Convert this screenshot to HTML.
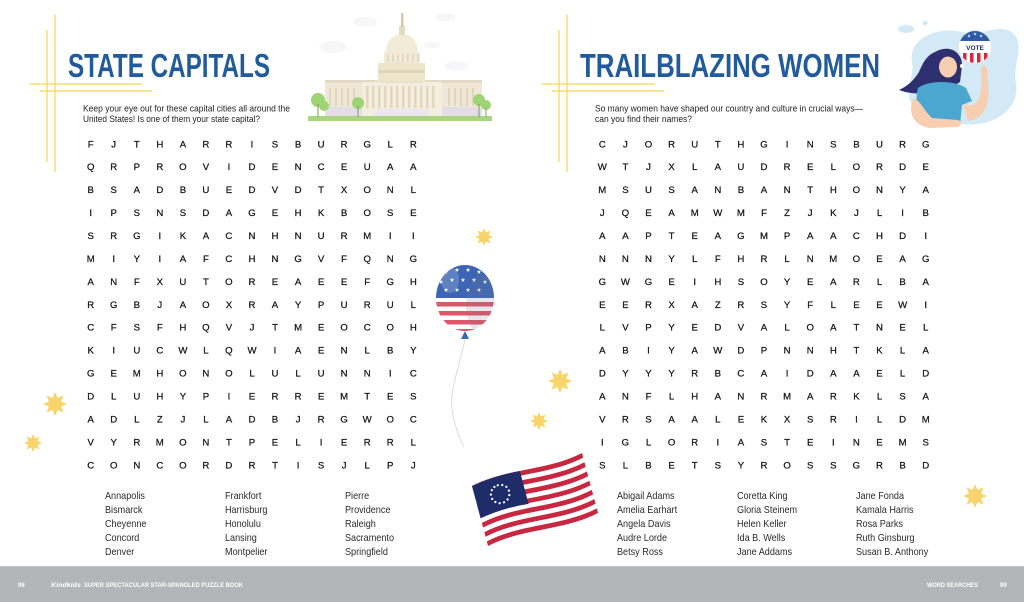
<!DOCTYPE html>
<html><head><meta charset="utf-8"><style>
html,body{margin:0;padding:0;background:#fff;}
svg{display:block;}
</style></head><body>
<svg width="1024" height="602" viewBox="0 0 1024 602" xmlns="http://www.w3.org/2000/svg">
<defs>
<polygon id="sb" points="1,0 0.508,0.211 0.707,0.707 0.211,0.508 0,1 -0.211,0.508 -0.707,0.707 -0.508,0.211 -1,0 -0.508,-0.211 -0.707,-0.707 -0.211,-0.508 0,-1 0.211,-0.508 0.707,-0.707 0.508,-0.211"/>
<polygon id="s5" points="0,-1 0.22,-0.31 0.95,-0.31 0.36,0.12 0.59,0.81 0,0.38 -0.59,0.81 -0.36,0.12 -0.95,-0.31 -0.22,-0.31"/>
<clipPath id="bal"><ellipse cx="465" cy="298" rx="29" ry="33"/></clipPath>
<clipPath id="btn"><circle cx="975" cy="47" r="16"/></clipPath>
<path id="stripe" d="M0,0 C37,-7 73,7 110,0 L110,4.62 C73,11.62 37,-2.38 0,4.62 Z"/>
</defs>

<!-- yellow guide lines -->
<g stroke="#f7d64e" stroke-width="1.2" fill="none">
<line x1="55" y1="15" x2="55" y2="172"/>
<line x1="47" y1="30" x2="47" y2="162"/>
<line x1="30" y1="84" x2="142" y2="84"/>
<line x1="40" y1="91" x2="152" y2="91"/>
<line x1="567" y1="15" x2="567" y2="172"/>
<line x1="559" y1="30" x2="559" y2="162"/>
<line x1="542" y1="84" x2="655" y2="84"/>
<line x1="552" y1="91" x2="664" y2="91"/>
</g>

<!-- titles -->
<g font-family="Liberation Sans, sans-serif" font-weight="bold" fill="#215b9c" font-size="33.5">
<text x="68" y="77" textLength="202" lengthAdjust="spacingAndGlyphs">STATE CAPITALS</text>
<text x="580" y="77" textLength="300" lengthAdjust="spacingAndGlyphs">TRAILBLAZING WOMEN</text>
</g>

<!-- descriptions -->
<g font-family="Liberation Sans, sans-serif" fill="#222" font-size="9.2">
<text x="83" y="111.5" textLength="207" lengthAdjust="spacingAndGlyphs">Keep your eye out for these capital cities all around the</text>
<text x="83" y="122" textLength="177" lengthAdjust="spacingAndGlyphs">United States! Is one of them your state capital?</text>
<text x="595" y="111.5" textLength="268" lengthAdjust="spacingAndGlyphs">So many women have shaped our country and culture in crucial ways—</text>
<text x="595" y="122" textLength="97" lengthAdjust="spacingAndGlyphs">can you find their names?</text>
</g>

<!-- capitol -->
<g>
<ellipse cx="365" cy="22" rx="12" ry="5" fill="#f7f7f9"/>
<ellipse cx="333" cy="47" rx="14" ry="6" fill="#f7f7f9"/>
<ellipse cx="445" cy="17" rx="10" ry="4" fill="#f7f7f9"/>
<ellipse cx="457" cy="66" rx="12" ry="5" fill="#f7f7f9"/>
<ellipse cx="432" cy="45" rx="8" ry="3" fill="#f7f7f9"/>
<rect x="325" y="81" width="157" height="36" fill="#efe8d6"/>
<rect x="325" y="80" width="157" height="3" fill="#e4dac3"/>
<g fill="#e0d5bd">
<rect x="329" y="88" width="2" height="18"/><rect x="335" y="88" width="2" height="18"/><rect x="341" y="88" width="2" height="18"/><rect x="347" y="88" width="2" height="18"/><rect x="353" y="88" width="2" height="18"/>
<rect x="448" y="88" width="2" height="18"/><rect x="454" y="88" width="2" height="18"/><rect x="460" y="88" width="2" height="18"/><rect x="466" y="88" width="2" height="18"/><rect x="472" y="88" width="2" height="18"/>
</g>
<rect x="325" y="107" width="157" height="10" fill="#e4dde8"/>
<rect x="362" y="82" width="80" height="35" fill="#f4eee0"/>
<polygon points="380,83 402,75 424,83" fill="#e8dfc7"/>
<g fill="#e2d8c0">
<rect x="366" y="86" width="2.5" height="22"/><rect x="372" y="86" width="2.5" height="22"/><rect x="378" y="86" width="2.5" height="22"/><rect x="384" y="86" width="2.5" height="22"/><rect x="390" y="86" width="2.5" height="22"/><rect x="396" y="86" width="2.5" height="22"/><rect x="402" y="86" width="2.5" height="22"/><rect x="408" y="86" width="2.5" height="22"/><rect x="414" y="86" width="2.5" height="22"/><rect x="420" y="86" width="2.5" height="22"/><rect x="426" y="86" width="2.5" height="22"/><rect x="432" y="86" width="2.5" height="22"/>
</g>
<polygon points="372,117 432,117 428,109 376,109" fill="#ece6ef"/>
<rect x="378" y="63" width="47" height="19" fill="#ede4cc"/>
<rect x="378" y="70" width="47" height="3" fill="#e0d5bb"/>
<rect x="384" y="52" width="36" height="11" fill="#f2ebd9"/>
<g fill="#e0d5bb"><rect x="387" y="54" width="1.5" height="8"/><rect x="392" y="54" width="1.5" height="8"/><rect x="397" y="54" width="1.5" height="8"/><rect x="402" y="54" width="1.5" height="8"/><rect x="407" y="54" width="1.5" height="8"/><rect x="412" y="54" width="1.5" height="8"/><rect x="417" y="54" width="1.5" height="8"/></g>
<path d="M386,53 C386,40 394,34 402,34 C410,34 418,40 418,53 Z" fill="#f2ebd8"/>
<rect x="399" y="26" width="6" height="9" fill="#e6dbc1"/>
<rect x="401" y="13" width="2.5" height="14" fill="#d8c8a5"/>
<rect x="308" y="116" width="184" height="5" fill="#a8d680"/>
<g fill="#9fd474">
<circle cx="318" cy="100" r="7"/><circle cx="324" cy="106" r="5"/><circle cx="358" cy="103" r="6"/><circle cx="479" cy="100" r="6"/><circle cx="486" cy="105" r="5"/>
</g>
<g stroke="#7a9a5a" stroke-width="1"><line x1="318" y1="104" x2="318" y2="117"/><line x1="358" y1="106" x2="358" y2="117"/><line x1="479" y1="104" x2="479" y2="117"/><line x1="486" y1="108" x2="486" y2="117"/></g>
</g>

<!-- woman illustration -->
<g>
<path d="M912,62 C908,38 938,26 962,32 C982,37 998,22 1013,33 C1026,46 1012,62 1016,84 C1020,110 992,128 962,124 C936,122 906,114 909,90 C910,78 914,72 912,62 Z" fill="#d3e9f5"/>
<ellipse cx="906" cy="29" rx="8" ry="4" fill="#d3e9f5"/>
<circle cx="925" cy="23" r="2.5" fill="#d3e9f5"/>
<ellipse cx="1004" cy="58" rx="4" ry="3" fill="#d3e9f5"/>
<path d="M935,52 C948,44 963,52 962,66 L960,82 C955,86 945,88 940,90 C930,93 915,96 899,90 C908,86 914,80 919,72 C924,60 928,55 935,52 Z" fill="#2e2f6e"/>
<ellipse cx="948" cy="67" rx="9" ry="10.5" fill="#f7cfb0"/>
<path d="M940,50 C950,46 960,52 960,60 C952,58 945,56 940,50 Z" fill="#2e2f6e"/>
<path d="M918,88 C928,80 955,80 966,88 L972,101 L962,105 L960,125 L921,125 C917,112 915,98 918,88 Z" fill="#4ba6d0"/>
<path d="M963,104 C975,109 982,100 981,82 L981,70 C981,64 987,64 987,70 L988,82 C990,106 985,118 968,121 Z" fill="#f7cfb0"/>
<path d="M914,98 C908,108 910,125 930,128 L958,127 C962,125 962,121 958,120 L932,118 C925,112 922,103 914,98 Z" fill="#f7cfb0"/>
<circle cx="962" cy="66" r="2" fill="#fff"/><circle cx="966" cy="60" r="1.5" fill="#fff"/>
<circle cx="975" cy="47" r="16.5" fill="#fff" stroke="#e6e6e6" stroke-width="0.8"/>
<g clip-path="url(#btn)">
<rect x="955" y="28" width="40" height="13" fill="#2f5aa8"/>
<g fill="#d8283e"><rect x="963" y="53" width="3.5" height="12"/><rect x="970" y="53" width="3.5" height="12"/><rect x="977" y="53" width="3.5" height="12"/><rect x="984" y="53" width="3.5" height="12"/></g>
</g>
<g fill="#fff"><use href="#s5" transform="translate(969,36) scale(1.8)"/><use href="#s5" transform="translate(975,34) scale(1.8)"/><use href="#s5" transform="translate(981,36) scale(1.8)"/></g>
<text x="975" y="50" text-anchor="middle" font-family="Liberation Sans, sans-serif" font-weight="bold" font-size="6.5" fill="#1f2d5e">VOTE</text>
</g>

<!-- balloon -->
<g>
<g clip-path="url(#bal)">
<rect x="430" y="260" width="70" height="40" fill="#3c66b4"/>
<rect x="430" y="298" width="70" height="40" fill="#fff"/>
<g fill="#e0566b">
<rect x="430" y="302" width="70" height="4.5"/><rect x="430" y="311" width="70" height="4.5"/><rect x="430" y="320" width="70" height="4.5"/><rect x="430" y="329" width="70" height="4.5"/>
</g>
<g fill="#fff">
<use href="#s5" transform="translate(446,272) scale(2.4)"/><use href="#s5" transform="translate(457,270) scale(2.4)"/><use href="#s5" transform="translate(468,270) scale(2.4)"/><use href="#s5" transform="translate(479,272) scale(2.4)"/>
<use href="#s5" transform="translate(441,282) scale(2.4)"/><use href="#s5" transform="translate(452,280) scale(2.4)"/><use href="#s5" transform="translate(463,280) scale(2.4)"/><use href="#s5" transform="translate(474,280) scale(2.4)"/><use href="#s5" transform="translate(485,282) scale(2.4)"/>
<use href="#s5" transform="translate(446,290) scale(2.4)"/><use href="#s5" transform="translate(457,290) scale(2.4)"/><use href="#s5" transform="translate(468,290) scale(2.4)"/><use href="#s5" transform="translate(479,290) scale(2.4)"/>
</g>
<ellipse cx="482" cy="305" rx="16" ry="30" fill="#7a7a90" opacity="0.18"/>
<ellipse cx="450" cy="280" rx="9" ry="13" fill="#fff" opacity="0.18"/>
</g>
<polygon points="465,331 461,339 469,339" fill="#3c66b4"/>
<path d="M465,340 C458,370 448,395 453,415 C456,430 460,440 464,447" fill="none" stroke="#d8d8d8" stroke-width="0.9"/>
</g>

<!-- flag -->
<g transform="matrix(1 -0.3 0.267 1 472 486)">
<path d="M0,0 C37,-7 73,7 110,0 L110,60 C73,67 37,53 0,60 Z" fill="#fff"/>
<g fill="#c8283f">
<use href="#stripe" transform="translate(0,0)"/><use href="#stripe" transform="translate(0,9.23)"/><use href="#stripe" transform="translate(0,18.46)"/><use href="#stripe" transform="translate(0,27.69)"/><use href="#stripe" transform="translate(0,36.92)"/><use href="#stripe" transform="translate(0,46.15)"/><use href="#stripe" transform="translate(0,55.38)"/>
</g>
<path d="M0,0 Q24,-3.5 48,-0.6 L48,32.3 Q24,28.8 0,32.3 Z" fill="#1e2d68"/>
<g fill="#fff">
<circle cx="24" cy="6.5" r="1.1"/><circle cx="28.3" cy="7.5" r="1.1"/><circle cx="31.6" cy="10.3" r="1.1"/><circle cx="33" cy="14.5" r="1.1"/><circle cx="32.3" cy="18.8" r="1.1"/><circle cx="29.6" cy="22.3" r="1.1"/><circle cx="25.6" cy="24" r="1.1"/><circle cx="21.3" cy="23.6" r="1.1"/><circle cx="17.7" cy="21.3" r="1.1"/><circle cx="15.5" cy="17.6" r="1.1"/><circle cx="15.4" cy="13.2" r="1.1"/><circle cx="17.3" cy="9.4" r="1.1"/><circle cx="20.5" cy="7.1" r="1.1"/>
</g>
</g>

<!-- starbursts -->
<g fill="#f8d46c">
<use href="#sb" transform="translate(55,404) scale(12)"/>
<use href="#sb" transform="translate(33,443) scale(9)"/>
<use href="#sb" transform="translate(484,237) scale(9)"/>
<use href="#sb" transform="translate(560,381) scale(12)"/>
<use href="#sb" transform="translate(539,421) scale(9)"/>
<use href="#sb" transform="translate(975,496) scale(12)"/>
</g>

<!-- left grid -->
<g font-family="Liberation Sans, sans-serif" font-size="9.6" fill="#151515" stroke="#151515" stroke-width="0.25" text-anchor="middle">
<text x="90.7 113.7 136.8 159.8 182.9 205.9 228.9 252.0 275.0 298.1 321.1 344.1 367.2 390.2 413.3" y="147.3">FJTHARRISBURGLR</text>
<text x="90.7 113.7 136.8 159.8 182.9 205.9 228.9 252.0 275.0 298.1 321.1 344.1 367.2 390.2 413.3" y="170.2">QRPROVIDENCEUAA</text>
<text x="90.7 113.7 136.8 159.8 182.9 205.9 228.9 252.0 275.0 298.1 321.1 344.1 367.2 390.2 413.3" y="193.2">BSADBUEDVDTXONL</text>
<text x="90.7 113.7 136.8 159.8 182.9 205.9 228.9 252.0 275.0 298.1 321.1 344.1 367.2 390.2 413.3" y="216.1">IPSNSDAGEHKBOSE</text>
<text x="90.7 113.7 136.8 159.8 182.9 205.9 228.9 252.0 275.0 298.1 321.1 344.1 367.2 390.2 413.3" y="239.0">SRGIKACNHNURMII</text>
<text x="90.7 113.7 136.8 159.8 182.9 205.9 228.9 252.0 275.0 298.1 321.1 344.1 367.2 390.2 413.3" y="262.0">MIYIAFCHNGVFQNG</text>
<text x="90.7 113.7 136.8 159.8 182.9 205.9 228.9 252.0 275.0 298.1 321.1 344.1 367.2 390.2 413.3" y="284.9">ANFXUTOREAEEFGH</text>
<text x="90.7 113.7 136.8 159.8 182.9 205.9 228.9 252.0 275.0 298.1 321.1 344.1 367.2 390.2 413.3" y="307.8">RGBJAOXRAYPURUL</text>
<text x="90.7 113.7 136.8 159.8 182.9 205.9 228.9 252.0 275.0 298.1 321.1 344.1 367.2 390.2 413.3" y="330.7">CFSFHQVJTMEOCOH</text>
<text x="90.7 113.7 136.8 159.8 182.9 205.9 228.9 252.0 275.0 298.1 321.1 344.1 367.2 390.2 413.3" y="353.7">KIUCWLQWIAENLBY</text>
<text x="90.7 113.7 136.8 159.8 182.9 205.9 228.9 252.0 275.0 298.1 321.1 344.1 367.2 390.2 413.3" y="376.6">GEMHONOLULUNNIC</text>
<text x="90.7 113.7 136.8 159.8 182.9 205.9 228.9 252.0 275.0 298.1 321.1 344.1 367.2 390.2 413.3" y="399.5">DLUHYPIERREMTES</text>
<text x="90.7 113.7 136.8 159.8 182.9 205.9 228.9 252.0 275.0 298.1 321.1 344.1 367.2 390.2 413.3" y="422.5">ADLZJLADBJRGWOC</text>
<text x="90.7 113.7 136.8 159.8 182.9 205.9 228.9 252.0 275.0 298.1 321.1 344.1 367.2 390.2 413.3" y="445.4">VYRMONTPELIERRL</text>
<text x="90.7 113.7 136.8 159.8 182.9 205.9 228.9 252.0 275.0 298.1 321.1 344.1 367.2 390.2 413.3" y="468.3">CONCORDRTISJLPJ</text>
</g>

<!-- right grid -->
<g font-family="Liberation Sans, sans-serif" font-size="9.6" fill="#151515" stroke="#151515" stroke-width="0.25" text-anchor="middle">
<text x="602.3 625.4 648.5 671.6 694.7 717.8 740.9 764.0 787.1 810.2 833.3 856.4 879.5 902.6 925.7" y="147.3">CJORUTHGINSBURG</text>
<text x="602.3 625.4 648.5 671.6 694.7 717.8 740.9 764.0 787.1 810.2 833.3 856.4 879.5 902.6 925.7" y="170.2">WTJXLAUDRELORDE</text>
<text x="602.3 625.4 648.5 671.6 694.7 717.8 740.9 764.0 787.1 810.2 833.3 856.4 879.5 902.6 925.7" y="193.2">MSUSANBANTHONYA</text>
<text x="602.3 625.4 648.5 671.6 694.7 717.8 740.9 764.0 787.1 810.2 833.3 856.4 879.5 902.6 925.7" y="216.1">JQEAMWMFZJKJLIB</text>
<text x="602.3 625.4 648.5 671.6 694.7 717.8 740.9 764.0 787.1 810.2 833.3 856.4 879.5 902.6 925.7" y="239.0">AAPTEAGMPAACHDI</text>
<text x="602.3 625.4 648.5 671.6 694.7 717.8 740.9 764.0 787.1 810.2 833.3 856.4 879.5 902.6 925.7" y="262.0">NNNYLFHRLNMOEAG</text>
<text x="602.3 625.4 648.5 671.6 694.7 717.8 740.9 764.0 787.1 810.2 833.3 856.4 879.5 902.6 925.7" y="284.9">GWGEIHSOYEARLBA</text>
<text x="602.3 625.4 648.5 671.6 694.7 717.8 740.9 764.0 787.1 810.2 833.3 856.4 879.5 902.6 925.7" y="307.8">EERXAZRSYFLEEWI</text>
<text x="602.3 625.4 648.5 671.6 694.7 717.8 740.9 764.0 787.1 810.2 833.3 856.4 879.5 902.6 925.7" y="330.7">LVPYEDVALOATNEL</text>
<text x="602.3 625.4 648.5 671.6 694.7 717.8 740.9 764.0 787.1 810.2 833.3 856.4 879.5 902.6 925.7" y="353.7">ABIYAWDPNNHTKLA</text>
<text x="602.3 625.4 648.5 671.6 694.7 717.8 740.9 764.0 787.1 810.2 833.3 856.4 879.5 902.6 925.7" y="376.6">DYYYRBCAIDAAELD</text>
<text x="602.3 625.4 648.5 671.6 694.7 717.8 740.9 764.0 787.1 810.2 833.3 856.4 879.5 902.6 925.7" y="399.5">ANFLHANRMARKLSA</text>
<text x="602.3 625.4 648.5 671.6 694.7 717.8 740.9 764.0 787.1 810.2 833.3 856.4 879.5 902.6 925.7" y="422.5">VRSAALEKXSRILDM</text>
<text x="602.3 625.4 648.5 671.6 694.7 717.8 740.9 764.0 787.1 810.2 833.3 856.4 879.5 902.6 925.7" y="445.4">IGLORIASTEINEMS</text>
<text x="602.3 625.4 648.5 671.6 694.7 717.8 740.9 764.0 787.1 810.2 833.3 856.4 879.5 902.6 925.7" y="468.3">SLBETSYROSSGRBD</text>
</g>

<!-- word lists -->
<g font-family="Liberation Sans, sans-serif" font-size="10" fill="#2a2a2a">
<g transform="translate(105,0) scale(0.91,1)">
<text x="0" y="499">Annapolis</text><text x="0" y="513">Bismarck</text><text x="0" y="527">Cheyenne</text><text x="0" y="541">Concord</text><text x="0" y="555">Denver</text>
</g>
<g transform="translate(225,0) scale(0.91,1)">
<text x="0" y="499">Frankfort</text><text x="0" y="513">Harrisburg</text><text x="0" y="527">Honolulu</text><text x="0" y="541">Lansing</text><text x="0" y="555">Montpelier</text>
</g>
<g transform="translate(345,0) scale(0.91,1)">
<text x="0" y="499">Pierre</text><text x="0" y="513">Providence</text><text x="0" y="527">Raleigh</text><text x="0" y="541">Sacramento</text><text x="0" y="555">Springfield</text>
</g>
<g transform="translate(617,0) scale(0.91,1)">
<text x="0" y="499">Abigail Adams</text><text x="0" y="513">Amelia Earhart</text><text x="0" y="527">Angela Davis</text><text x="0" y="541">Audre Lorde</text><text x="0" y="555">Betsy Ross</text>
</g>
<g transform="translate(737,0) scale(0.91,1)">
<text x="0" y="499">Coretta King</text><text x="0" y="513">Gloria Steinem</text><text x="0" y="527">Helen Keller</text><text x="0" y="541">Ida B. Wells</text><text x="0" y="555">Jane Addams</text>
</g>
<g transform="translate(856,0) scale(0.91,1)">
<text x="0" y="499">Jane Fonda</text><text x="0" y="513">Kamala Harris</text><text x="0" y="527">Rosa Parks</text><text x="0" y="541">Ruth Ginsburg</text><text x="0" y="555">Susan B. Anthony</text>
</g>
</g>

<!-- footer -->
<rect x="0" y="566" width="1024" height="36" fill="#b4b5b8"/>
<rect x="0" y="566" width="1024" height="1" fill="#c4c5c8"/>
<g font-family="Liberation Sans, sans-serif" font-weight="bold" font-size="6" fill="#fff">
<text x="18" y="587">98</text>
<text x="51" y="587" font-style="italic" textLength="30" lengthAdjust="spacingAndGlyphs">Kindkids</text>
<text x="84" y="587" textLength="159" lengthAdjust="spacingAndGlyphs">SUPER SPECTACULAR STAR-SPANGLED PUZZLE BOOK</text>
<text x="927" y="587" textLength="51" lengthAdjust="spacingAndGlyphs">WORD SEARCHES</text>
<text x="1000" y="587">99</text>
</g>
</svg>
</body></html>
